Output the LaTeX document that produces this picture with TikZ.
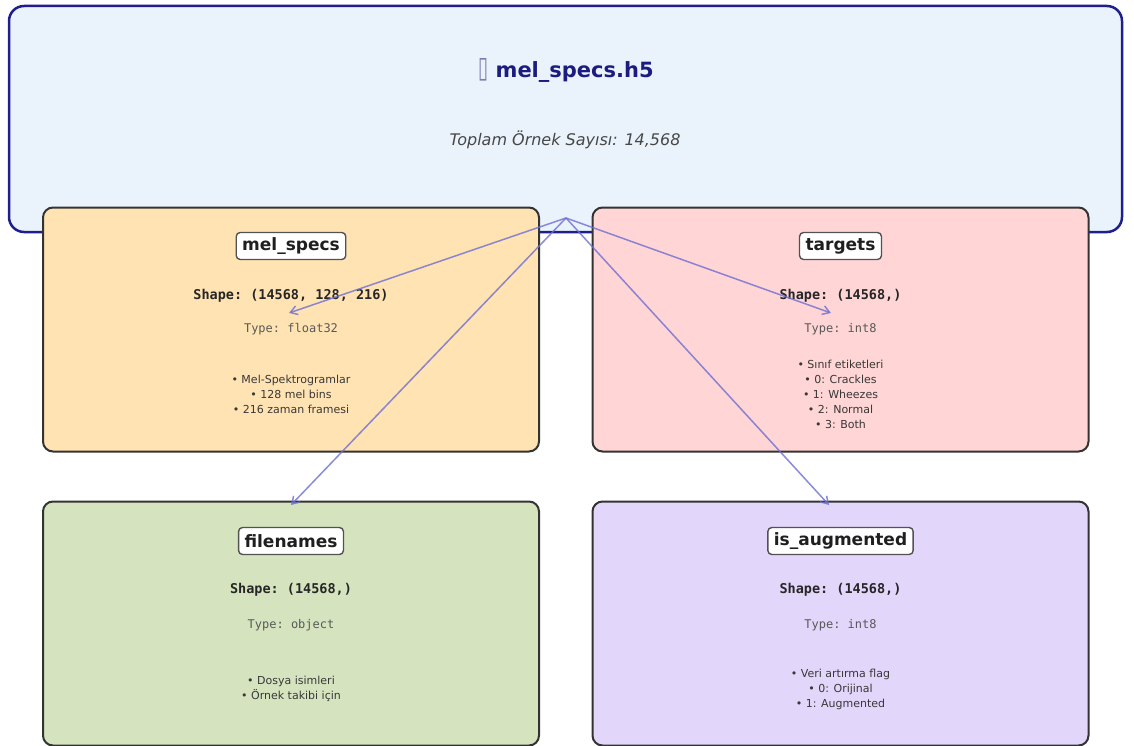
\documentclass[tikz,border=0pt]{standalone}
\usepackage{fontspec}
\setmainfont{DejaVu Sans}
\setmonofont{DejaVu Sans Mono}
\usetikzlibrary{arrows.meta}

\definecolor{filebg}{HTML}{EAF3FB}
\definecolor{fileedge}{HTML}{1E1E8C}
\definecolor{titleblue}{HTML}{1C1C80}
\definecolor{tofu}{HTML}{7C7CAE}
\definecolor{melbg}{HTML}{FFE3B3}
\definecolor{tgtbg}{HTML}{FFD5D5}
\definecolor{fnbg}{HTML}{D5E4BF}
\definecolor{augbg}{HTML}{E2D6FA}
\definecolor{boxedge}{HTML}{333333}
\definecolor{linkcol}{HTML}{6E6ED2}

\tikzset{
  filebox/.style={draw=fileedge, fill=filebg, line width=2.5pt, rounded corners=15pt,
    minimum width=1113pt, minimum height=226pt, inner sep=0pt},
  dsbox/.style={draw=boxedge, fill=#1, line width=2pt, rounded corners=10pt,
    minimum width=496pt, minimum height=244pt, inner sep=0pt},
  dslabel/.style={draw=boxedge!85, fill=white, line width=1.4pt, rounded corners=4pt,
    inner xsep=6pt, inner ysep=0pt, minimum height=27pt,
    font=\fontsize{17}{20}\selectfont\bfseries, text=black!88},
  shapetxt/.style={font=\fontsize{13.5}{16}\selectfont\ttfamily\bfseries, text=black!85, inner sep=0pt},
  typetxt/.style={font=\fontsize{12}{14}\selectfont\ttfamily, text=black!65, inner sep=0pt},
  notes/.style={font=\fontsize{11}{15}\selectfont, text=black!78, align=center, inner sep=0pt},
  link/.style={draw=linkcol, draw opacity=0.8, line width=1.5pt,
    -{Straight Barb[length=7pt,width=9pt,line width=1.5pt]}}
}

\begin{document}
\begin{tikzpicture}[x=1pt,y=-1pt]
\useasboundingbox (0,0) rectangle (1134,746);

% HDF5 file container
\node[filebox] (file) at (565.5,119) {};
\node[font=\fontsize{21}{25}\selectfont, inner sep=0pt] (title) at (566,70)
  {\textcolor{tofu}{\mdseries\resizebox{10pt}{19pt}{▯}}\textcolor{titleblue}{\bfseries\ mel\_specs.h5}};
\node[font=\fontsize{16}{19}\selectfont\itshape, text=black!72, inner sep=0pt] (count) at (565,140)
  {Toplam Örnek Sayısı: 14,568};

% datasets
\node[dsbox=melbg] (mel) at (291,329.5) {};
\node[dsbox=tgtbg] (tgt) at (840.5,329.5) {};
\node[dsbox=fnbg]  (fn)  at (291,623.5) {};
\node[dsbox=augbg] (aug) at (840.5,623.5) {};

% mel_specs
\node[dslabel] (mellbl) at (291,246) {mel\_specs};
\node[shapetxt] (melshape) at (291,296) {Shape: (14568, 128, 216)};
\node[typetxt] (meltype) at (291,329) {Type: float32};
\node[notes] (melnotes) at (291,394) {• Mel-Spektrogramlar\\• 128 mel bins\\• 216 zaman framesi};

% targets
\node[dslabel] (tgtlbl) at (840.5,246) {targets};
\node[shapetxt] (tgtshape) at (840.5,296) {Shape: (14568,)};
\node[typetxt] (tgttype) at (840.5,329) {Type: int8};
\node[notes] (tgtnotes) at (840.5,394) {• Sınıf etiketleri\\• 0: Crackles\\• 1: Wheezes\\• 2: Normal\\• 3: Both};

% filenames
\node[dslabel] (fnlbl) at (291,541) {filenames};
\node[shapetxt] (fnshape) at (291,590) {Shape: (14568,)};
\node[typetxt] (fntype) at (291,625) {Type: object};
\node[notes] (fnnotes) at (291,688.5) {• Dosya isimleri\\• Örnek takibi için};

% is_augmented
\node[dslabel] (auglbl) at (840.5,541) {is\_augmented};
\node[shapetxt] (augshape) at (840.5,590) {Shape: (14568,)};
\node[typetxt] (augtype) at (840.5,625) {Type: int8};
\node[notes] (augnotes) at (840.5,689) {• Veri artırma flag\\• 0: Orijinal\\• 1: Augmented};

% links from the file to each dataset
\coordinate (hub) at (566,218);
\coordinate (melend) at (289,313);
\coordinate (tgtend) at (831,313);
\coordinate (fnend) at (291,505);
\coordinate (augend) at (829,505);
\draw[link] (hub) -- (melend);
\draw[link] (hub) -- (tgtend);
\draw[link] (hub) -- (fnend);
\draw[link] (hub) -- (augend);
\end{tikzpicture}
\end{document}
